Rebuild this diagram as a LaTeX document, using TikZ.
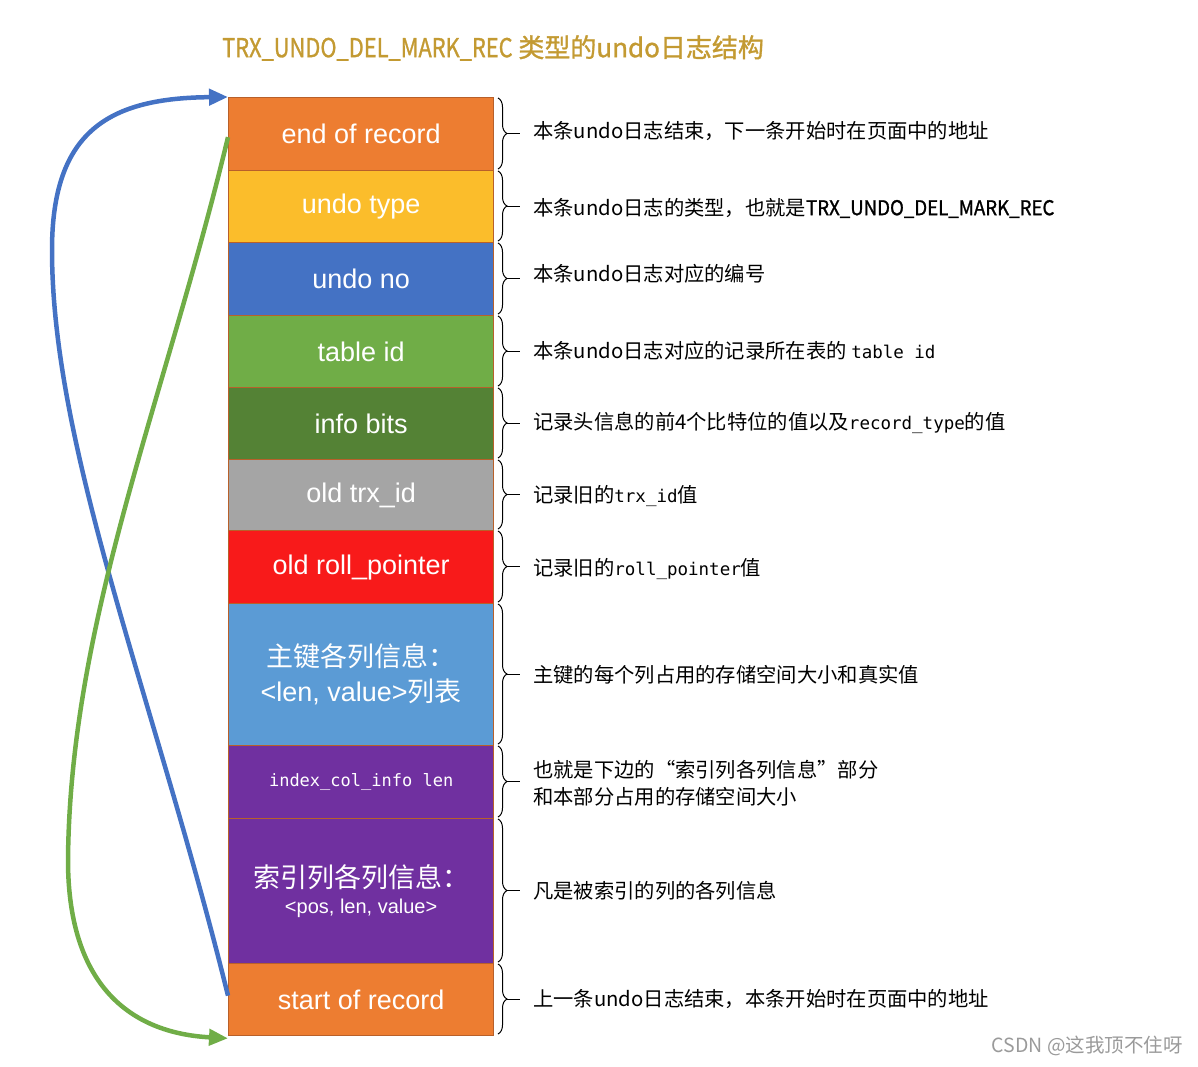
\documentclass[tikz,border=0pt]{standalone}
\usepackage{fontspec}
\setmainfont{Liberation Sans}
\newfontfamily\cjk{Noto Sans CJK SC}
\newfontfamily\cjkb[FakeBold=1.2]{Noto Sans CJK SC}
\newfontfamily\monof{DejaVu Sans Mono}
\usetikzlibrary{decorations.pathreplacing,arrows.meta}
\definecolor{corange}{HTML}{ED7D31}
\definecolor{cyellow}{HTML}{FBBD2B}
\definecolor{cblue}{HTML}{4472C4}
\definecolor{cgreen}{HTML}{70AD47}
\definecolor{cdgreen}{HTML}{548235}
\definecolor{cgray}{HTML}{A5A5A5}
\definecolor{cred}{HTML}{F81A1A}
\definecolor{clblue}{HTML}{5B9BD5}
\definecolor{cpurple}{HTML}{7030A0}
\definecolor{cborder}{HTML}{B8602A}
\definecolor{ctitle}{HTML}{C39A32}
\definecolor{cwm}{HTML}{9A9A9A}
\newcommand{\dmono}[1]{{\monof\fontsize{17.5}{20}\selectfont #1}}
\begin{document}
\begin{tikzpicture}[x=1pt,y=-1pt,
  cell/.style={draw=cborder, line width=1.3pt, minimum width=265pt, anchor=north west,
    inner sep=0pt, text=white, align=center, font=\fontsize{27}{32}\selectfont},
  desc/.style={anchor=west, inner sep=0pt, align=left, font=\cjk\fontsize{20.3}{27}\selectfont},
  bracestyle/.style={decorate, decoration={brace, amplitude=9pt}, line width=1pt},
  linkarrow/.style={line width=4.5pt, -{Triangle[length=19pt,width=16pt]}}
]
\useasboundingbox (0,0) rectangle (1198,1066);

% title
\node[anchor=west, inner sep=0pt, text=ctitle, font=\cjkb\fontsize{26}{28}\selectfont] (title) at (222,48)
  {\scalebox{0.84}[1]{TRX\_UNDO\_DEL\_MARK\_REC} 类型的undo日志结构};

% cells
\node[cell, fill=corange, minimum height=73pt] (endrec) at (228,97) {end of record};
\node[cell, fill=cyellow, minimum height=72pt] (utype) at (228,170) {undo type};
\node[cell, fill=cblue, minimum height=73pt] (uno) at (228,242) {undo no};
\node[cell, fill=cgreen, minimum height=72pt] (tid) at (228,315) {table id};
\node[cell, fill=cdgreen, minimum height=72pt] (ibits) at (228,387) {info bits};
\node[cell, fill=cgray, minimum height=71pt] (otrx) at (228,459) {old trx\_id};
\node[cell, fill=cred, minimum height=73pt] (oroll) at (228,530) {old roll\_pointer};
\node[cell, fill=clblue, minimum height=142pt, font=\cjk\fontsize{27}{35}\selectfont] (pk) at (228,603)
  {主键各列信息：\\{\fontspec{Liberation Sans}<len, value>}列表};
\node[cell, fill=cpurple, minimum height=73pt, font=\monof\fontsize{17}{20}\selectfont] (icil) at (228,745) {index\_col\_info len};
\node[cell, fill=cpurple, minimum height=145pt, font=\cjk\fontsize{27}{30}\selectfont] (icol) at (228,818)
  {索引列各列信息：\\[-4pt]{\fontspec{Liberation Sans}\fontsize{20}{22}\selectfont <pos, len, value>}};
\node[cell, fill=corange, minimum height=72pt] (startrec) at (228,963) {start of record};

% braces
\foreach \a/\b in {97/170,170/242,242/315,315/387,387/459,459/530,530/603,603/745,745/818,818/963,963/1035}{
  \draw[bracestyle] (498,\a+1) -- (498,\b-1);
  \draw[line width=1pt] (507,{(\a+\b)/2}) -- (520,{(\a+\b)/2});
}

% descriptions
\node[desc] (d1) at (533,131) {本条undo日志结束，下一条开始时在页面中的地址};
\node[desc] (d2) at (533,208) {本条undo日志的类型，也就是{\cjkb\scalebox{0.92}[1]{TRX\_UNDO\_DEL\_MARK\_REC}}};
\node[desc] (d3) at (533,274) {本条undo日志对应的编号};
\node[desc] (d4) at (533,351) {本条undo日志对应的记录所在表的 \dmono{table id}};
\node[desc] (d5) at (533,423) {记录头信息的前4个比特位的值以及\dmono{record\_type}的值};
\node[desc] (d6) at (533,496) {记录旧的\dmono{trx\_id}值};
\node[desc] (d7) at (533,569) {记录旧的\dmono{roll\_pointer}值};
\node[desc] (d8) at (533,675) {主键的每个列占用的存储空间大小和真实值};
\node[desc] (d9) at (533,783) {也就是下边的“索引列各列信息”部分\\和本部分占用的存储空间大小};
\node[desc] (d10) at (533,891) {凡是被索引的列的各列信息};
\node[desc] (d11) at (533,999) {上一条undo日志结束，本条开始时在页面中的地址};

% arrows
\coordinate (bs) at ([yshift=4pt]startrec.west);
\coordinate (gs) at ([yshift=-3pt]endrec.west);
\draw[linkarrow, draw=cblue] (bs) .. controls (155,700) and (52,450) .. (52,250)
  .. controls (52,130) and (110,98) .. (endrec.north west);
\draw[linkarrow, draw=cgreen] (gs) .. controls (165,400) and (70,620) .. (68,860)
  .. controls (68,985) and (130,1033) .. ([yshift=-2pt]startrec.south west);

% watermark
\node[anchor=east, inner sep=0pt, text=cwm, font=\cjk\fontsize{19.5}{21}\selectfont] (wm) at (1183,1046) {CSDN @这我顶不住呀};
\end{tikzpicture}
\end{document}
